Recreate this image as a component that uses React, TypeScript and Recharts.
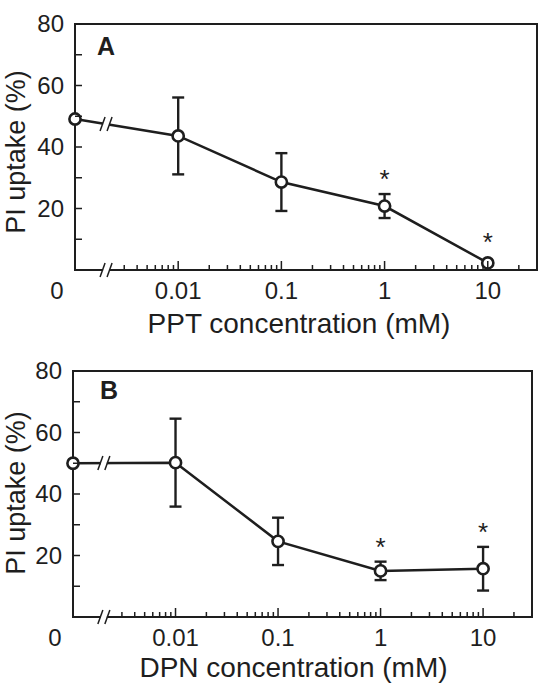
import React from 'react'
import { LineChart, Line, XAxis, YAxis, ErrorBar, ReferenceArea, ReferenceDot } from 'recharts'

// concentrations in mM (0 = control, drawn left of the axis break)
const concentrationsMM = [0, 0.01, 0.1, 1, 10]

const pptUptake = [49.1, 43.6, 28.6, 20.8, 2.3]
const pptError = [0, 12.5, 9.4, 3.9, 0]
const pptSignificant = [false, false, false, true, true]

const dpnUptake = [50, 50.2, 24.6, 15, 15.7]
const dpnError = [0, 14.3, 7.7, 3, 7.1]
const dpnSignificant = [false, false, false, true, true]

const majorTickValues = [0.001, 0.01, 0.1, 1, 10]
const majorTickLabels = ['0', '0.01', '0.1', '1', '10']
const minorTickValues = [
  0.003, 0.004, 0.005, 0.006, 0.007, 0.008, 0.009,
  0.02, 0.03, 0.04, 0.05, 0.06, 0.07, 0.08, 0.09,
  0.2, 0.3, 0.4, 0.5, 0.6, 0.7, 0.8, 0.9,
  2, 3, 4, 5, 6, 7, 8, 9,
  20,
]
const yTickValues = [10, 20, 30, 40, 50, 60, 70, 80]
const yTickLabels = [20, 40, 60, 80]

const ZERO_POS = 0.001 // where the "0" control sits on the log axis
const BREAK_POS = 0.002
const X_DOMAIN = [ZERO_POS, 30]
const Y_DOMAIN = [0, 80]

const INK = '#1e1e1e'
const FONT = '"Liberation Sans", Arial, Helvetica, sans-serif'

const XTick = (props: any) => {
  const { x, y, payload } = props
  const v = payload.value
  const i = majorTickValues.indexOf(v)
  if (i < 0) {
    return <line x1={x} x2={x} y1={y} y2={y - 5} stroke={INK} strokeWidth={1.5} />
  }
  return (
    <g>
      {v !== ZERO_POS && <line x1={x} x2={x} y1={y} y2={y - 9} stroke={INK} strokeWidth={1.5} />}
      <text
        x={v === ZERO_POS ? x - 18 : x}
        y={y + 29}
        textAnchor="middle"
        fontSize={24}
        fill={INK}
        fontFamily={FONT}
      >
        {majorTickLabels[i]}
      </text>
    </g>
  )
}

const YTick = (props: any) => {
  const { x, y, payload } = props
  const v = payload.value
  return (
    <g>
      <line x1={x} x2={x + 7} y1={y} y2={y} stroke={INK} strokeWidth={1.5} />
      {yTickLabels.includes(v) && (
        <text x={x - 11} y={y} dy="0.35em" textAnchor="end" fontSize={24} fill={INK} fontFamily={FONT}>
          {v}
        </text>
      )}
    </g>
  )
}

const BreakMark = ({ cx, cy }: any) => (
  <g>
    <rect x={cx - 3} y={cy - 4} width={6} height={8} fill="#fff" />
    <line x1={cx - 6} y1={cy + 7} x2={cx - 1} y2={cy - 7} stroke={INK} strokeWidth={1.5} />
    <line x1={cx + 1} y1={cy + 7} x2={cx + 6} y2={cy - 7} stroke={INK} strokeWidth={1.5} />
  </g>
)

const Star = ({ cx, cy }: any) => (
  <text x={cx} y={cy - 6} textAnchor="middle" fontSize={26} fill={INK} fontFamily={FONT}>
    *
  </text>
)

interface PanelLayout {
  top: number
  right: number
  yAxisWidth: number
  xAxisHeight: number
  xTitleDx: number
  xTitleDy: number
  yTitleDy: number
  letterDx: number
  letterDy: number
}

interface PanelProps {
  letter: string
  xTitle: string
  uptake: number[]
  error: number[]
  significant: boolean[]
  layout: PanelLayout
}

const Panel: React.FC<PanelProps> = ({ letter, xTitle, uptake, error, significant, layout }) => {
  const data = concentrationsMM.map((c, i) => ({
    x: c === 0 ? ZERO_POS : c,
    y: uptake[i],
    err: error[i],
  }))

  // y of the connecting line where it crosses the break (linear in log space)
  const t = (Math.log10(BREAK_POS) - Math.log10(data[0].x)) / (Math.log10(data[1].x) - Math.log10(data[0].x))
  const lineBreakY = data[0].y + t * (data[1].y - data[0].y)

  return (
    <LineChart
      width={555}
      height={344}
      data={data}
      margin={{ top: layout.top, right: layout.right, bottom: 0, left: 0 }}
    >
      <XAxis
        dataKey="x"
        type="number"
        scale="log"
        domain={X_DOMAIN}
        ticks={[...majorTickValues, ...minorTickValues]}
        interval={0}
        tick={<XTick />}
        tickLine={false}
        axisLine={false}
        tickSize={0}
        tickMargin={0}
        height={layout.xAxisHeight}
        label={(p: any) => {
          const vb = p.viewBox
          return (
            <text
              x={vb.x + vb.width / 2 + layout.xTitleDx}
              y={vb.y + layout.xTitleDy}
              textAnchor="middle"
              fontSize={28}
              fill={INK}
              fontFamily={FONT}
            >
              {xTitle}
            </text>
          )
        }}
      />
      <YAxis
        type="number"
        domain={Y_DOMAIN}
        ticks={yTickValues}
        interval={0}
        tick={<YTick />}
        tickLine={false}
        axisLine={false}
        tickSize={0}
        tickMargin={0}
        width={layout.yAxisWidth}
        label={(p: any) => {
          const vb = p.viewBox
          const cy = vb.y + vb.height / 2 + layout.yTitleDy
          return (
            <g>
              <text
                x={25}
                y={cy}
                transform={`rotate(-90, 25, ${cy})`}
                textAnchor="middle"
                fontSize={27}
                fill={INK}
                fontFamily={FONT}
              >
                PI uptake (%)
              </text>
              <text
                x={vb.x + vb.width + layout.letterDx}
                y={vb.y + layout.letterDy}
                fontSize={25}
                fontWeight="bold"
                fill={INK}
                fontFamily={FONT}
              >
                {letter}
              </text>
            </g>
          )
        }}
      />
      <ReferenceArea
        x1={X_DOMAIN[0]}
        x2={X_DOMAIN[1]}
        y1={Y_DOMAIN[0]}
        y2={Y_DOMAIN[1]}
        fill="none"
        fillOpacity={0}
        stroke={INK}
        strokeWidth={2}
      />
      <Line
        dataKey="y"
        stroke={INK}
        strokeWidth={2.5}
        dot={{ r: 5.6, fill: '#fff', stroke: INK, strokeWidth: 2.6 }}
        activeDot={false}
        isAnimationActive={false}
      >
        <ErrorBar dataKey="err" width={6} stroke={INK} strokeWidth={2.4} />
      </Line>
      <ReferenceDot x={BREAK_POS} y={lineBreakY} shape={<BreakMark />} zIndex={1500} />
      <ReferenceDot x={BREAK_POS} y={Y_DOMAIN[0]} shape={<BreakMark />} zIndex={1500} />
      {data.map((d, i) =>
        significant[i] ? (
          <ReferenceDot
            key={i}
            x={d.x}
            y={d.y + Math.max(d.err, 2)}
            shape={<Star />}
            zIndex={1500}
          />
        ) : null
      )}
    </LineChart>
  )
}

export default function App() {
  return (
    <div style={{ position: 'absolute', left: 0, top: 0, width: 555, height: 688, background: '#fff' }}>
      <Panel
        letter="A"
        xTitle="PPT concentration (mM)"
        uptake={pptUptake}
        error={pptError}
        significant={pptSignificant}
        layout={{ top: 24, right: 18, yAxisWidth: 75, xAxisHeight: 74, xTitleDx: -7, xTitleDy: 63, yTitleDy: 5, letterDx: 22, letterDy: 31 }}
      />
      <Panel
        letter="B"
        xTitle="DPN concentration (mM)"
        uptake={dpnUptake}
        error={dpnError}
        significant={dpnSignificant}
        layout={{ top: 27, right: 23, yAxisWidth: 73, xAxisHeight: 71, xTitleDx: -9, xTitleDy: 60, yTitleDy: -1, letterDx: 27, letterDy: 28 }}
      />
    </div>
  )
}
